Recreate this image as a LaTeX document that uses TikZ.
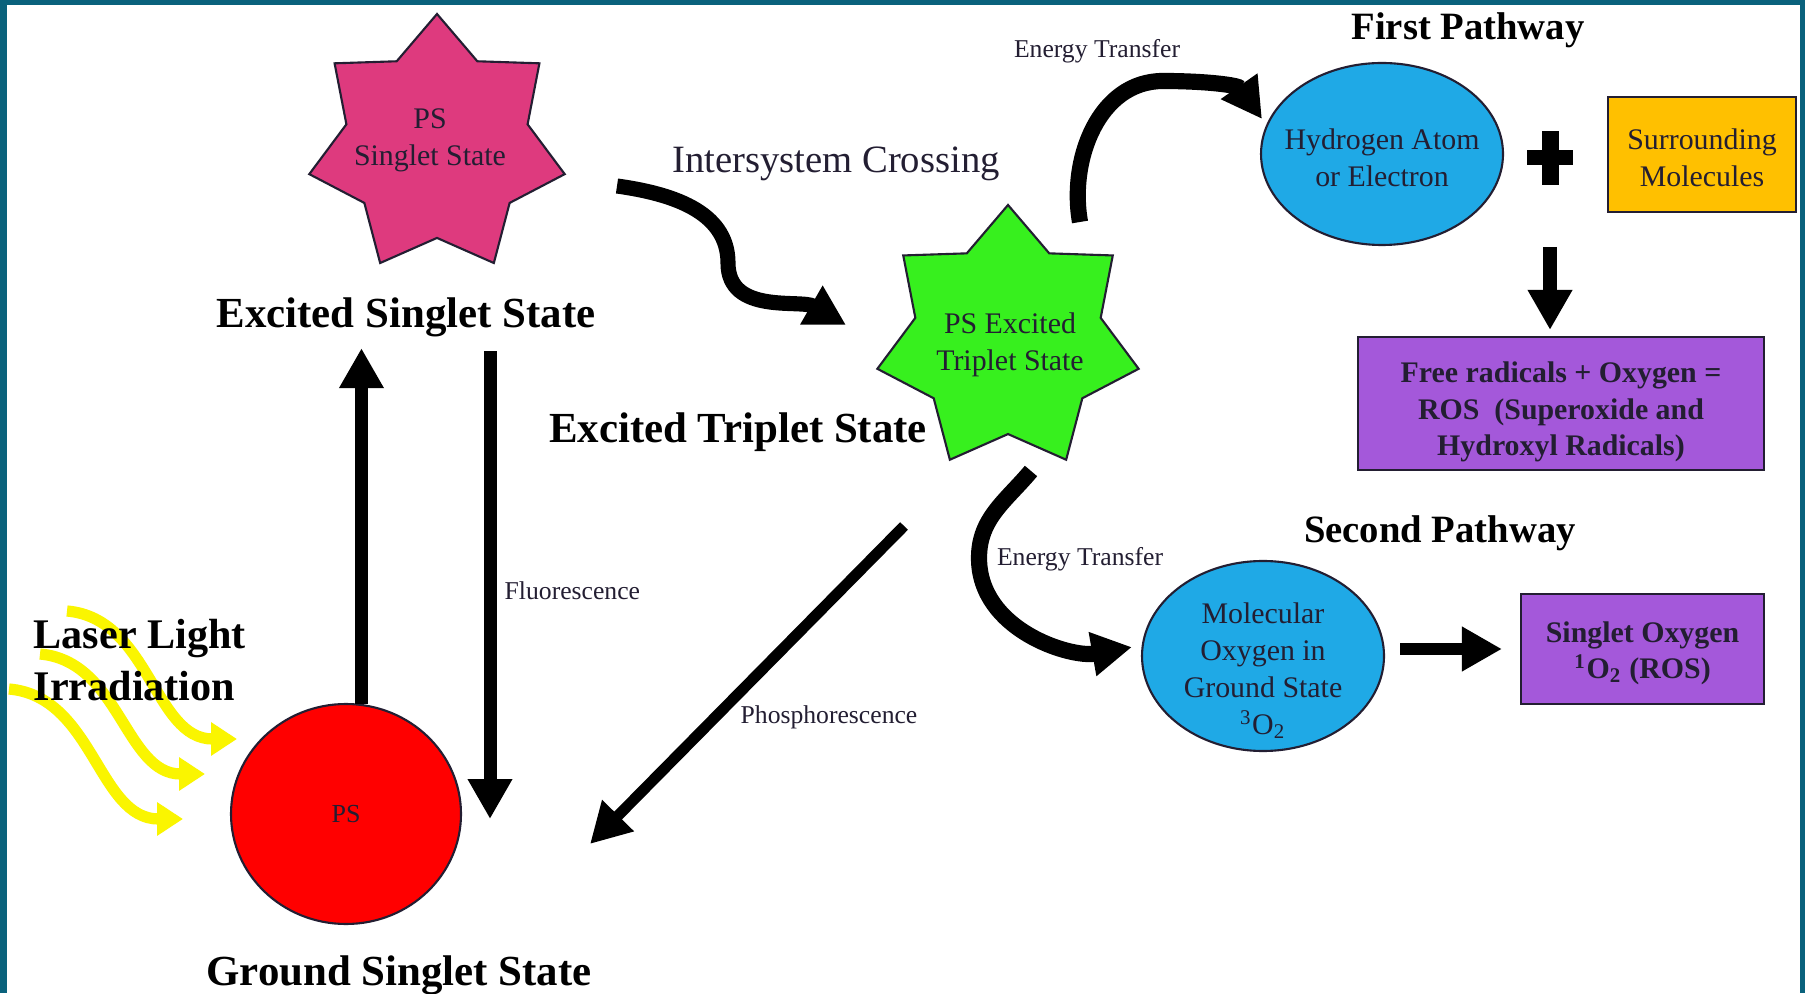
\documentclass[tikz,border=0pt]{standalone}
\usepackage{fontspec}
\setmainfont{Liberation Serif}
\usepackage{tikz}
\usetikzlibrary{shapes.geometric,arrows.meta,positioning}

\definecolor{frameteal}{RGB}{10,98,124}
\definecolor{pspink}{RGB}{222,58,126}
\definecolor{psgreen}{RGB}{55,240,30}
\definecolor{psred}{RGB}{255,0,0}
\definecolor{skyblue}{RGB}{31,169,230}
\definecolor{amber}{RGB}{255,192,0}
\definecolor{orchid}{RGB}{164,88,218}
\definecolor{laser}{RGB}{250,245,0}
\definecolor{ink}{RGB}{35,30,50}

\tikzset{
  statestar/.style={star, star points=7, star point ratio=1.41, draw=ink, line width=0.6pt, inner sep=0pt},
  blob/.style={ellipse, draw=ink, line width=0.6pt, fill=skyblue, inner sep=0pt},
  blobtext/.style={align=center, text=ink, inner sep=0pt, font=\fontsize{8.5}{10.5}\selectfont},
  rosbox/.style={rectangle, draw=ink, line width=0.6pt, fill=orchid, inner sep=0pt},
  rostext/.style={align=center, text=ink, inner sep=0pt, font=\fontsize{8.5}{10.3}\selectfont\bfseries},
  heading/.style={inner sep=0pt, font=\fontsize{12.2}{14.8}\selectfont\bfseries},
  pathway/.style={inner sep=0pt, font=\fontsize{11}{13}\selectfont\bfseries},
  smalltag/.style={inner sep=0pt, text=ink, font=\fontsize{7.3}{9}\selectfont},
  fat/.style={line width=#1, -{Triangle[length=0.40cm,width=0.42cm]}},
  fat/.default=4pt,
  beam/.style={laser, line width=3.2pt, -{Triangle[length=0.26cm,width=0.32cm]}},
}

\begin{document}
\begin{tikzpicture}
\useasboundingbox (0,0) rectangle (18.05,9.93);
\fill[white] (0,0) rectangle (18.05,9.93);
\fill[frameteal] (0,0) rectangle (0.07,9.93);
\fill[frameteal] (0,9.88) rectangle (18.05,9.93);
\fill[frameteal] (18.00,0) rectangle (18.05,9.93);

\foreach \sx/\sy/\ex/\ey in {0.67/3.82/2.37/2.54, 0.40/3.39/2.05/2.19, 0.09/3.04/1.83/1.74}{
    \draw[beam] (\sx,\sy) to[out=-5,in=180] (\ex,\ey);
}

\node[statestar, fill=pspink, minimum size=2.62cm] (pss) at (4.37,8.48) {};
\node[blobtext] (psstxt) at (4.30,8.53) {PS\\Singlet State};
\node[statestar, fill=psgreen, minimum size=2.68cm] (pts) at (10.08,6.54) {};
\node[blobtext] (ptstxt) at (10.10,6.48) {PS Excited\\Triplet State};
\node[ellipse, draw=ink, line width=0.6pt, fill=psred, minimum width=2.30cm, minimum height=2.20cm,
      text=ink, font=\fontsize{7.4}{9}\selectfont] (ps) at (3.46,1.79) {PS};

\node[blob, minimum width=2.42cm, minimum height=1.82cm] (hatom) at (13.82,8.39) {};
\node[blobtext] (hatomtxt) at (13.82,8.35) {Hydrogen Atom\\or Electron};
\node[rectangle, draw=ink, line width=0.6pt, fill=amber, minimum width=1.88cm, minimum height=1.15cm] (surr) at (17.02,8.385) {};
\node[blobtext] (surrtxt) at (17.02,8.35) {Surrounding\\Molecules};
\node[rosbox, minimum width=4.06cm, minimum height=1.33cm] (ros1) at (15.61,5.895) {};
\node[rostext] (ros1txt) at (15.61,5.81) {Free radicals + Oxygen =\\ROS\ \ (Superoxide and\\Hydroxyl Radicals)};
\node[blob, minimum width=2.42cm, minimum height=1.90cm] (mol) at (12.63,3.37) {};
\node[blobtext] (moltxt) at (12.63,3.22) {Molecular\\Oxygen in\\Ground State\\\textsuperscript{3}O\textsubscript{2}};
\node[rosbox, minimum width=2.43cm, minimum height=1.10cm] (singo) at (16.425,3.44) {};
\node[rostext] (singotxt) at (16.425,3.40) {Singlet Oxygen\\\textsuperscript{1}O\textsubscript{2} (ROS)};

\node[heading, anchor=base] (ess) at (4.06,6.65) {Excited Singlet State};
\node[heading, anchor=base] (ets) at (7.38,5.50) {Excited Triplet State};
\node[heading, anchor=base] (gss) at (3.99,0.08) {Ground Singlet State};
\node[heading, anchor=west, align=left, font=\fontsize{12}{14.8}\selectfont\bfseries] (laser) at (0.33,3.33)
      {Laser Light\\Irradiation};
\node[pathway, anchor=base] (fp) at (14.68,9.53) {First Pathway};
\node[pathway, anchor=base] (sp) at (14.40,4.50) {Second Pathway};
\node[anchor=base, inner sep=0pt, text=ink, font=\fontsize{11}{13}\selectfont] (isc) at (8.36,8.20) {Intersystem Crossing};
\node[smalltag, anchor=base] (et1) at (10.97,9.35) {Energy Transfer};
\node[smalltag, anchor=base] (et2) at (10.80,4.27) {Energy Transfer};
\node[smalltag, anchor=base west] (fl) at (5.04,3.93) {Fluorescence};
\node[smalltag, anchor=base] (ph) at (8.29,2.70) {Phosphorescence};

\coordinate (plus) at (15.50,8.35);
\draw[line width=0.15cm] ([xshift=-0.23cm]plus) -- ([xshift=0.23cm]plus);
\draw[line width=0.17cm] ([yshift=-0.27cm]plus) -- ([yshift=0.27cm]plus);

\coordinate (flend) at (4.90,1.74);
\coordinate (phA) at (9.04,4.67);
\coordinate (phB) at (5.90,1.49);
\coordinate (iscA) at (6.17,8.07);
\coordinate (iscM) at (7.28,7.30);
\coordinate (iscB) at (8.46,6.68);
\coordinate (etA) at (10.80,7.71);
\coordinate (etM) at (11.63,9.12);
\coordinate (etC) at (12.62,8.74);
\coordinate (etB) at (10.31,5.22);
\coordinate (etN) at (9.79,4.35);

\draw[fat=3.7pt, shorten >=1mm] (ps.82) -- (ps.82 |- ess.south);
\draw[fat=3.7pt, shorten <=1.3mm] (ess.south -| flend) -- (flend);
\draw[fat=3.1pt] (phA) -- (phB);
\draw[fat=4.3pt] (iscA) to[out=-8,in=90] (iscM) to[out=-90,in=150] (iscB);
\draw[fat=4.6pt] (etA) to[out=100,in=180] (etM) to[out=0,in=125] (etC);
\draw[fat=4.6pt, shorten >=1mm] (etB) to[out=230,in=90] (etN) to[out=-90,in=190] (mol.175);
\draw[fat=4.2pt, shorten >=0.6mm] ([yshift=-8.9mm]plus) -- (plus |- ros1.north);
\draw[fat=3.5pt, shorten <=1.5mm, shorten >=1.8mm] (mol.east |- singo.west) -- (singo.west);
\end{tikzpicture}
\end{document}
